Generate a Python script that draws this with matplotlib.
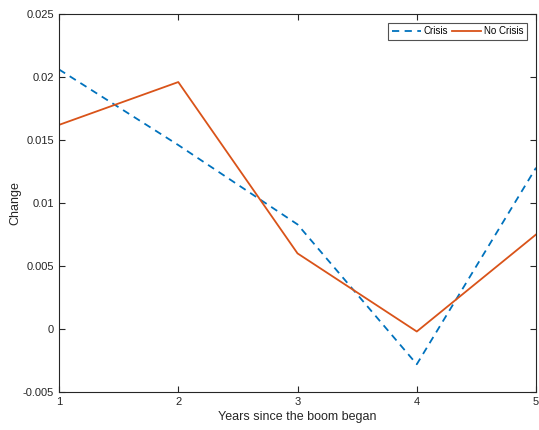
import numpy as np
import matplotlib
matplotlib.use('Agg')
import matplotlib.pyplot as plt

plt.rcParams['font.family'] = ['Liberation Sans', 'DejaVu Sans']

years = [1, 2, 3, 4, 5]
crisis = [0.0206, 0.0146, 0.0083, -0.0028, 0.0128]
no_crisis = [0.0162, 0.0196, 0.0060, -0.0002, 0.0075]

fig = plt.figure(figsize=(5.39, 4.30), dpi=100)
ax = fig.add_axes([0.1095, 0.0884, 0.885, 0.879])

ax.plot(years, crisis, '--', color='#0072BD', lw=1.3, dashes=(4, 3), label='Crisis')
ax.plot(years, no_crisis, '-', color='#D95319', lw=1.3, label='No Crisis')

ax.set_xlim(1, 5)
ax.set_ylim(-0.005, 0.025)
ax.set_xticks([1, 2, 3, 4, 5])
ax.set_yticks(np.arange(-0.005, 0.0251, 0.005))
ax.set_yticklabels(['-0.005', '0', '0.005', '0.01', '0.015', '0.02', '0.025'])
ax.tick_params(direction='in', top=True, right=True, labelsize=8, colors='#262626', length=4)
for s in ax.spines.values():
    s.set_color('#262626')
    s.set_linewidth(0.8)

ax.set_xlabel('Years since the boom began', fontsize=9, color='#262626', labelpad=3)
ax.set_ylabel('Change', fontsize=9, color='#262626', labelpad=1)

leg = ax.legend(loc='upper right', ncol=2, fontsize=7, frameon=True, fancybox=False,
                edgecolor='#262626', handlelength=3, columnspacing=0.4, handletextpad=0.3,
                borderpad=0.35, borderaxespad=0, bbox_to_anchor=(0.981, 0.976))
leg.get_frame().set_linewidth(0.8)

fig.savefig('out.png', dpi=100)
